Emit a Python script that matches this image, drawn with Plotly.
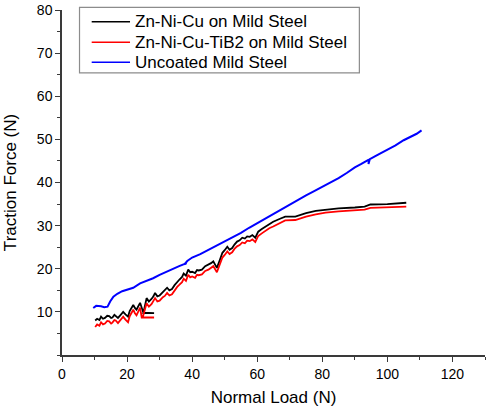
import plotly.graph_objects as go

series_names = ["Zn-Ni-Cu on Mild Steel", "Zn-Ni-Cu-TiB2 on Mild Steel", "Uncoated Mild Steel"]
series_colors = ["#000000", "#ff0000", "#0000ff"]

# Zn-Ni-Cu on Mild Steel
x_znnicu = [10.2, 10.8, 11.5, 12, 12.6, 13.2, 13.9, 14.5, 15.1, 15.5, 16.1, 16.5, 17.2, 17.9, 18.8, 19.5, 20.3,
            20.8, 21.2, 21.9, 22.4, 22.9, 23.5, 24, 25, 28.3, 25, 26, 26.7, 27.5, 28.1, 28.6, 29.3, 30, 31,
            31.6, 32.3, 33, 33.8, 34.6, 35.4, 36.1, 36.9, 37.4, 38.1, 38.8, 39.4, 40, 40.9, 41.5, 42, 43,
            44, 45, 45.8, 46.5, 47.6, 48.5, 49.3, 50, 50.8, 51.5, 52.3, 53, 53.8, 54.6, 55.4, 56.2, 56.9,
            57.7, 58.5, 59.4, 60.3, 61.4, 62.5, 63.7, 64.9, 67, 68.6, 71.7, 75, 78, 81, 85, 90, 93, 94.8,
            100, 105.8]
y_znnicu = [8.0, 8.4, 8.1, 8.9, 8.4, 8.6, 9.1, 9.0, 8.6, 8.7, 9.3, 9.1, 8.6, 9.2, 10.0, 9.4, 8.9,
            10.2, 10.8, 11.6, 10.9, 10.5, 11.4, 12.1, 9.8, 9.7, 9.7, 13.2, 12.4, 13.0, 13.6, 14.4, 13.6, 13.8, 14.6,
            14.9, 15.6, 15.0, 15.3, 16.2, 17.0, 17.5, 18.1, 18.9, 18.4, 19.8, 19.2, 19.3, 19.0, 19.7, 19.6, 19.8,
            20.6, 20.9, 21.3, 21.7, 20.2, 22.0, 23.7, 24.3, 25.1, 24.4, 24.8, 25.6, 26.3, 26.6, 27.2, 27.0, 27.5,
            27.4, 27.8, 27.2, 28.6, 29.2, 29.8, 30.4, 30.9, 31.6, 32.1, 32.1, 32.9, 33.4, 33.7, 34.0, 34.2, 34.4, 34.9,
            35.0, 35.3]

# Zn-Ni-Cu-TiB2 on Mild Steel
x_tib2 = [10.2, 10.8, 11.5, 12, 12.6, 13.2, 13.9, 14.5, 15.1, 15.5, 16.1, 16.5, 17.2, 17.9, 18.8, 19.5, 20.3,
          20.8, 21.2, 21.9, 22.4, 22.9, 23.5, 24, 24.5, 28.3, 24.8, 26, 26.7, 27.5, 28.1, 28.6, 29.3, 30, 31,
          31.6, 32.3, 33, 33.8, 34.6, 35.4, 36.1, 36.9, 37.4, 38.1, 38.8, 39.4, 40, 40.9, 41.5, 42, 43,
          44, 45, 45.8, 46.5, 47.6, 48.5, 49.3, 50, 50.8, 51.5, 52.3, 53, 53.8, 54.6, 55.4, 56.2, 56.9,
          57.7, 58.5, 59.4, 60.3, 61.4, 62.5, 63.7, 64.9, 67, 68.6, 71.7, 75, 78, 81, 85, 90, 93, 94.8,
          100, 105.8]
y_tib2 = [6.5, 7.1, 6.8, 7.6, 7.1, 7.3, 7.9, 7.8, 7.3, 7.5, 8.1, 8.0, 7.4, 8.0, 8.9, 8.2, 7.6,
          9.0, 9.6, 10.5, 9.7, 9.2, 10.2, 11.0, 8.7, 8.7, 8.7, 12.0, 11.2, 11.8, 12.5, 13.2, 12.4, 12.6, 13.4,
          13.7, 14.4, 13.8, 14.1, 15.0, 15.8, 16.3, 16.9, 17.7, 17.2, 18.6, 18.0, 18.2, 17.9, 18.6, 18.5, 18.7,
          19.5, 19.8, 20.2, 20.6, 19.2, 21.0, 22.6, 23.2, 24.0, 23.4, 23.8, 24.6, 25.2, 25.5, 26.1, 25.9, 26.5,
          26.4, 26.8, 26.2, 27.6, 28.2, 28.8, 29.4, 29.8, 30.7, 31.2, 31.3, 32.1, 32.6, 33.0, 33.3, 33.5, 33.7, 34.1,
          34.2, 34.4]

# Uncoated Mild Steel
x_uncoated = [9.6, 10.5, 12, 13, 14, 14.8, 15.8, 17, 18.5, 20, 21.9, 24, 26, 28, 30, 32, 34, 36, 38.3, 37.6,
              38.5, 40, 42.5, 45, 47.5, 50, 52.5, 55, 57.5, 60, 62.5, 65, 67.5, 70, 72.5, 75, 77.5, 80,
              82.5, 85, 87.5, 90, 92, 94.3, 94.2, 94.6, 97, 100, 102.5, 105, 107.5, 109, 110.5]
y_uncoated = [10.9, 11.4, 11.3, 11.1, 11.2, 12.4, 13.5, 14.2, 14.8, 15.2, 15.6, 16.6, 17.2, 17.8, 18.6, 19.3,
              20.0, 20.6, 21.3, 21.0, 21.8, 22.6, 23.4, 24.4, 25.4, 26.3, 27.4, 28.3, 29.5, 30.6, 31.6, 32.8,
              33.8, 35.0, 36.0, 37.0, 38.0, 39.0, 40.0, 41.0, 42.2, 43.5, 44.3, 45.3, 44.3, 45.4, 46.4, 47.6,
              48.6, 49.8, 50.7, 51.3, 52.1]

x_ticks = [0, 20, 40, 60, 80, 100, 120]
y_ticks = [10, 20, 30, 40, 50, 60, 70, 80]

font_family = "Liberation Sans, Arial, sans-serif"

fig = go.Figure()
series_x = [x_znnicu, x_tib2, x_uncoated]
series_y = [y_znnicu, y_tib2, y_uncoated]
series_w = [1.8, 1.8, 2.0]
for name, color, xs, ys, w in zip(series_names, series_colors, series_x, series_y, series_w):
    fig.add_trace(go.Scatter(x=xs, y=ys, mode="lines", name=name,
                             line=dict(color=color, width=w), showlegend=False))

# Legend box drawn in paper coordinates (Origin-style boxed legend)
legend_rows = [0.9661, 0.9064, 0.8484]
shapes = [dict(type="rect", xref="paper", yref="paper", x0=0.0414, x1=0.703, y0=0.818, y1=1.0078,
               line=dict(color="#8c8c8c", width=1.2), fillcolor="white", layer="above")]
annotations = []
for name, color, yr in zip(series_names, series_colors, legend_rows):
    shapes.append(dict(type="line", xref="paper", yref="paper", x0=0.0702, x1=0.1608, y0=yr, y1=yr,
                       line=dict(color=color, width=1.5), layer="above"))
    annotations.append(dict(text=name, xref="paper", yref="paper", x=0.169, y=yr,
                            xanchor="left", yanchor="middle", showarrow=False,
                            font=dict(family=font_family, size=17, color="#000000")))

axis_common = dict(
    showgrid=False, zeroline=False, showline=True, linecolor="#3a3a3a", linewidth=1.5,
    ticks="outside", ticklen=5, tickwidth=1.2, tickcolor="#3a3a3a",
    tickfont=dict(family=font_family, size=14, color="#000000"),
    automargin=False,
)

fig.update_layout(
    width=490, height=409,
    margin=dict(l=62, r=5, t=10, b=54),
    paper_bgcolor="white", plot_bgcolor="white",
    font=dict(family=font_family, color="#000000"),
    xaxis=dict(range=[0, 130], tickvals=x_ticks,
               minor=dict(ticks="outside", ticklen=3, tickwidth=1.2, tickcolor="#3a3a3a", dtick=10, tick0=0),
               title=dict(text="Normal Load (N)", font=dict(size=17, family=font_family), standoff=11),
               **axis_common),
    yaxis=dict(range=[0, 80], tickvals=y_ticks,
               minor=dict(ticks="outside", ticklen=3, tickwidth=1.2, tickcolor="#3a3a3a", dtick=5, tick0=0),
               title=dict(text="Traction Force (N)", font=dict(size=17, family=font_family), standoff=16),
               **axis_common),
    shapes=shapes,
    annotations=annotations,
    showlegend=False,
)

fig.write_html("out.html", config={"displayModeBar": False},
               post_script="document.body.style.margin='0';")
